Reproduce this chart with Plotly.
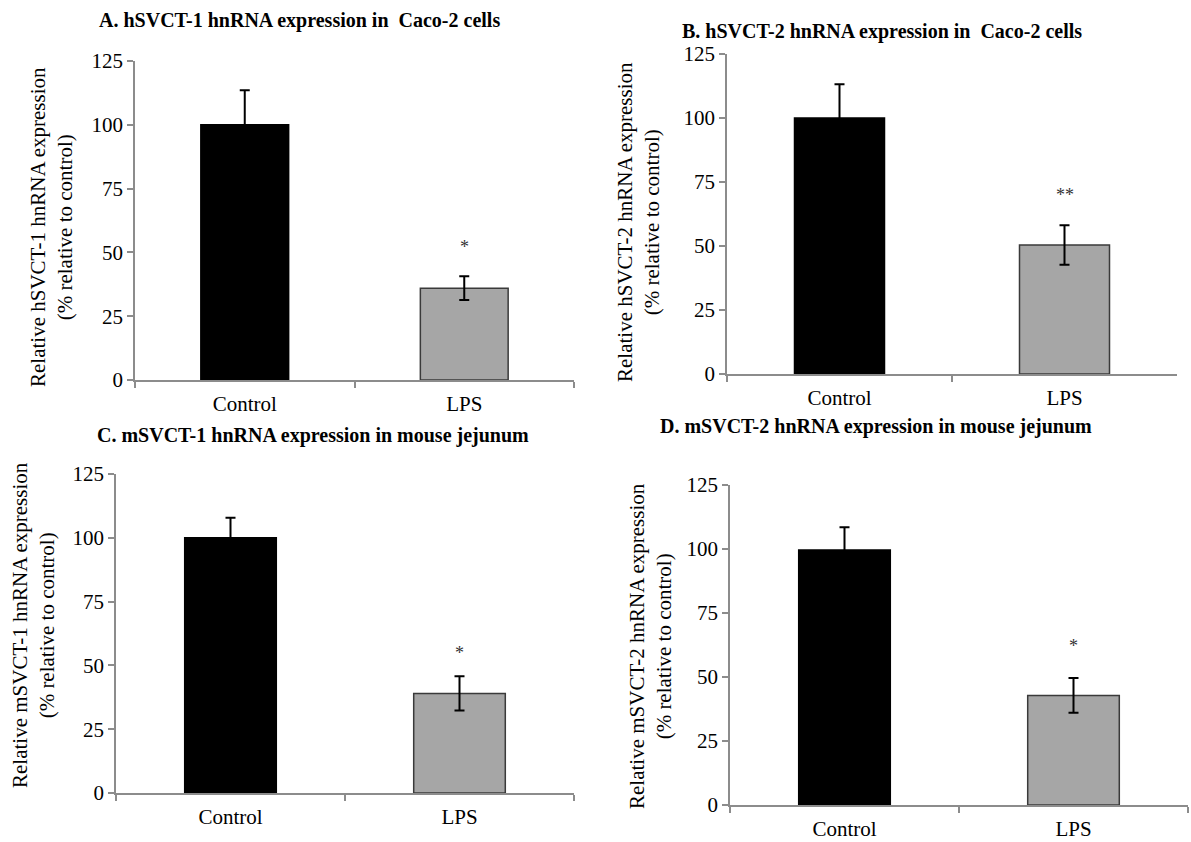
import plotly.graph_objects as go

W, H = 1191, 842

categories = ["Control", "LPS"]

panel_titles = [
    "A. hSVCT-1 hnRNA expression in&nbsp; Caco-2 cells",
    "B. hSVCT-2 hnRNA expression in&nbsp; Caco-2 cells",
    "C. mSVCT-1 hnRNA expression in mouse jejunum",
    "D. mSVCT-2 hnRNA expression in mouse jejunum",
]
y_titles = [
    "Relative hSVCT-1 hnRNA expression<br>(% relative to control)",
    "Relative hSVCT-2 hnRNA expression<br>(% relative to control)",
    "Relative mSVCT-1 hnRNA expression<br>(% relative to control)",
    "Relative mSVCT-2 hnRNA expression<br>(% relative to control)",
]

means_A = [100, 36]
sem_A = [13.5, 4.7]
means_B = [100, 50.4]
sem_B = [13.2, 7.7]
means_C = [100, 39]
sem_C = [7.9, 6.7]
means_D = [99.6, 42.8]
sem_D = [8.9, 6.8]

stars = ["*", "**", "*", "*"]
star_y = [52, 70, 55, 62]

y_ticks = [0, 25, 50, 75, 100, 125]

means = [means_A, means_B, means_C, means_D]
sems = [sem_A, sem_B, sem_C, sem_D]

# pixel boxes of each plot area: left, right, top, bottom
boxes = [
    (135, 574, 61, 380),
    (727, 1177, 54, 374),
    (116, 574, 474, 793),
    (730, 1188, 485, 805),
]
title_pos = [(299, 21), (882, 31), (313, 436), (876, 426)]
ytitle_pos = [(51, 227), (638, 222), (33, 625), (650, 646)]

bar_colors = ["#000000", "#a6a6a6"]
line_colors = ["#000000", "#3a3a3a"]
axis_color = "#8c8c8c"
FONT = "Liberation Serif"

fig = go.Figure()
layout = dict(
    width=W, height=H, autosize=False,
    margin=dict(l=0, r=0, t=0, b=0, pad=0, autoexpand=False),
    paper_bgcolor="white", plot_bgcolor="white",
    showlegend=False,
    font=dict(family=FONT, color="#000000", size=21),
)
annotations = []

for i in range(4):
    sfx = "" if i == 0 else str(i + 1)
    l, r, t, b = boxes[i]
    fig.add_trace(go.Bar(
        x=categories, y=means[i],
        marker=dict(color=bar_colors, line=dict(color=line_colors, width=1.5)),
        error_y=dict(type="data", array=sems[i], visible=True,
                     color="#000000", thickness=2, width=5),
        width=0.4,
        xaxis="x" + sfx, yaxis="y" + sfx,
    ))
    layout["xaxis" + sfx] = dict(
        domain=[l / W, r / W], anchor="y" + sfx,
        type="category", range=[-0.5, 1.5],
        showline=True, linecolor=axis_color, linewidth=1.5,
        ticks="outside", tickson="boundaries", ticklen=6, tickcolor=axis_color,
        tickwidth=1.5, showgrid=False, zeroline=False, ticklabelstandoff=4,
        tickfont=dict(family=FONT, size=21, color="#000000"),
    )
    layout["yaxis" + sfx] = dict(
        domain=[1 - b / H, 1 - t / H], anchor="x" + sfx,
        range=[0, 125], tickvals=y_ticks,
        showline=True, linecolor=axis_color, linewidth=1.5,
        ticks="outside", ticklen=6, tickcolor=axis_color, tickwidth=1.5,
        showgrid=False, zeroline=False,
        tickfont=dict(family=FONT, size=21, color="#000000"),
    )
    tx, ty = title_pos[i]
    annotations.append(dict(
        text="<b>" + panel_titles[i] + "</b>", xref="paper", yref="paper",
        x=tx / W, y=1 - ty / H, xanchor="center", yanchor="middle",
        showarrow=False, font=dict(family=FONT, size=20, color="#000000"),
    ))
    yx, yy = ytitle_pos[i]
    annotations.append(dict(
        text=y_titles[i], xref="paper", yref="paper",
        x=yx / W, y=1 - yy / H, xanchor="center", yanchor="middle",
        textangle=-90, showarrow=False,
        font=dict(family=FONT, size=21, color="#000000"),
    ))
    annotations.append(dict(
        text=stars[i], xref="x" + sfx, yref="y" + sfx,
        x=categories[1], y=star_y[i], xanchor="center", yanchor="middle",
        showarrow=False, font=dict(family=FONT, size=18, color="#333333"),
    ))

layout["annotations"] = annotations
fig.update_layout(**layout)
fig.write_html(
    "out.html",
    config={"displayModeBar": False},
    post_script="document.body.style.margin='0';document.body.style.overflow='hidden';",
)
